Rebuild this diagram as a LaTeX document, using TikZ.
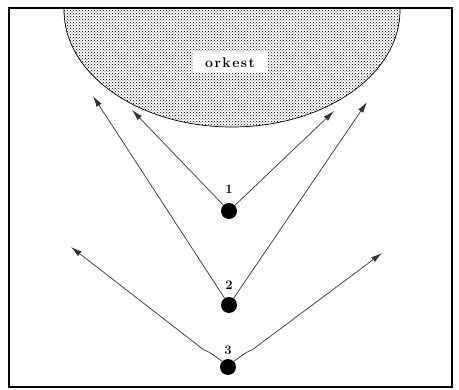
\documentclass[tikz,border=0pt]{standalone}
\usetikzlibrary{patterns,arrows.meta}
\begin{document}
\begin{tikzpicture}[x=1pt,y=-1pt,
  seat/.style={circle,fill=black,minimum size=16pt,inner sep=0pt},
  num/.style={font=\fontsize{13}{15}\selectfont\bfseries,inner sep=1pt},
  ray/.style={line width=0.7pt,draw=black!80,-{Latex[length=11pt,width=6pt]}},
  frame/.style={line width=1.4pt}]
\useasboundingbox (0,0) rectangle (459,390);
% orchestra pit
\fill[pattern=crosshatch dots,pattern color=black] (64,8) -- (64,10) arc[start angle=180,end angle=0,x radius=168,y radius=117] -- (400,8) -- cycle;
\draw[line width=0.7pt] (64,8) -- (64,10) arc[start angle=180,end angle=0,x radius=168,y radius=117] -- (400,8);
\node[fill=white,minimum width=75pt,minimum height=21pt,inner sep=0pt,font=\fontsize{14}{16}\selectfont\bfseries] (ork) at (230,63) {o\kern1.5pt r\kern1.5pt k\kern1.5pt e\kern1.5pt s\kern1.5pt t};
% frame
\draw[frame] (9,8) rectangle (452,387);
% seats
\node[seat] (p1) at (229,211) {};
\node[seat] (p2) at (229,305) {};
\node[seat] (p3) at (228,367) {};
\node[num] (l1) at (229,189) {1};
\node[num] (l2) at (229,285) {2};
\node[num] (l3) at (228,350) {3};
% tips
\coordinate (a1l) at (132,110);
\coordinate (a1r) at (334,111);
\coordinate (a2l) at (93,96);
\coordinate (a2r) at (367,102);
\coordinate (a3l) at (71,247);
\coordinate (a3r) at (382,253);
\coordinate (b3l) at (204,350);
\coordinate (b3r) at (252,350);
\draw[ray] (p1) -- (a1l);
\draw[ray] (p1) -- (a1r);
\draw[ray] (p2) -- (a2l);
\draw[ray] (p2) -- (a2r);
\draw[ray] (p3.north west) .. controls (215,357) and (211,352) .. (b3l) -- (a3l);
\draw[ray] (p3.north east) .. controls (241,357) and (245,352) .. (b3r) -- (a3r);
\end{tikzpicture}
\end{document}
